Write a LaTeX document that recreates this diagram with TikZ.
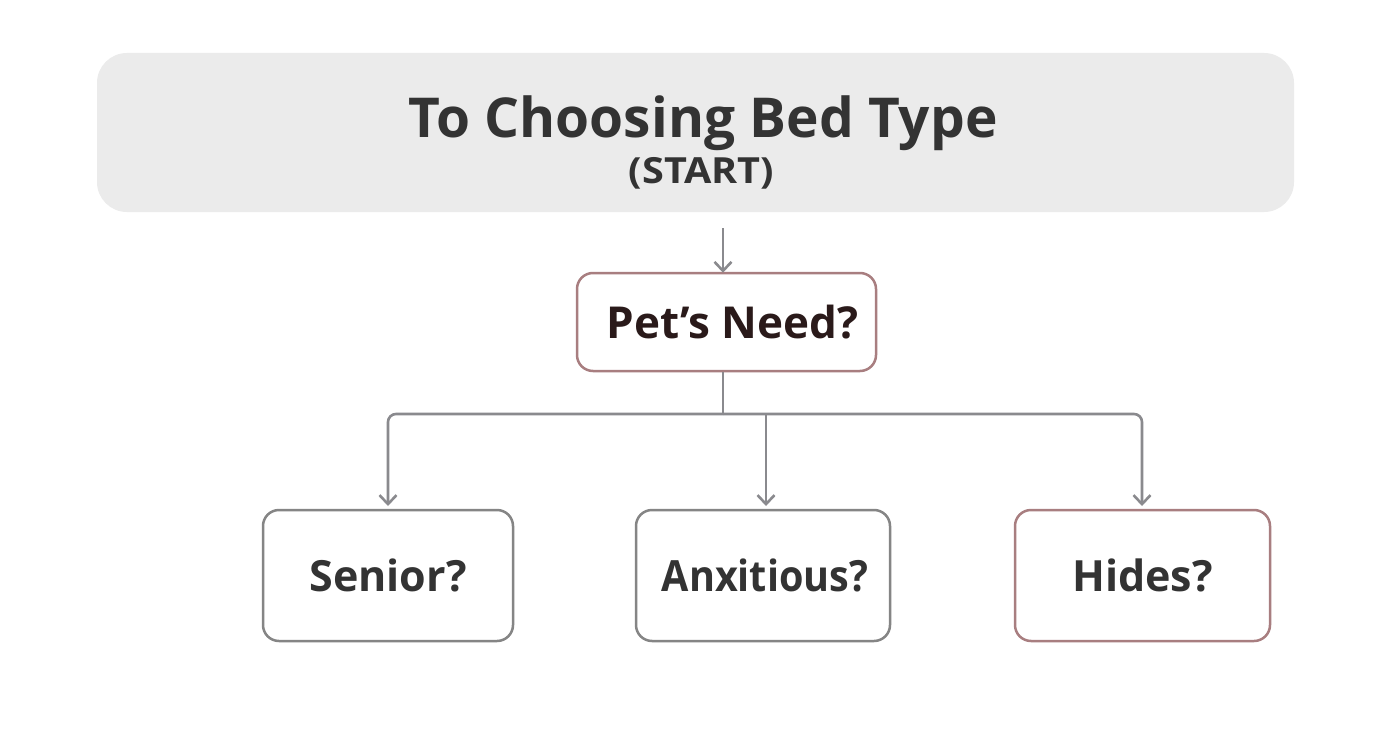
\documentclass[tikz,border=0pt]{standalone}
\usepackage{fontspec}
\setmainfont{Open Sans}
\newfontfamily\narrowfont[FakeStretch=0.92]{Open Sans}
\newfontfamily\widefont[FakeStretch=1.1]{Open Sans}
\usetikzlibrary{arrows.meta}
\definecolor{bgfill}{HTML}{EBEBEB}
\definecolor{txt}{HTML}{333333}
\definecolor{txtdark}{HTML}{2A1A1A}
\definecolor{graybd}{HTML}{858585}
\definecolor{redbd}{HTML}{A87E80}
\definecolor{linec}{HTML}{8A8A8E}
\tikzset{
  header/.style={fill=bgfill, rounded corners=30pt, draw=none},
  qbox/.style={draw=graybd, line width=2.5pt, rounded corners=16pt, fill=white, text=txt, font=\bfseries\fontsize{43}{50}\selectfont},
  qboxred/.style={qbox, draw=redbd},
  conn/.style={draw=linec, line width=2.6pt, rounded corners=8pt, -{Straight Barb[length=9pt,width=17pt,line width=2.6pt]}},
  connplain/.style={draw=linec, line width=2.6pt, rounded corners=8pt}
}
\begin{document}
\begin{tikzpicture}[x=1pt,y=-1pt]
\useasboundingbox[fill=white] (0,0) rectangle (1392,752);
% header
\path[header] (97,53) rectangle (1294,212);
\node[inner sep=0, anchor=base, text=txt, font=\bfseries\fontsize{55}{60}\selectfont] (title) at (703,137) {To Choosing Bed Type};
\node[inner sep=0, anchor=base, text=txt, font=\widefont\bfseries\fontsize{36}{40}\selectfont] (start) at (701.5,183) {(START)};
\coordinate (hb) at (723,228);
% Pet's need
\node[qboxred, minimum width=299pt, minimum height=98pt, text=txtdark, font=\bfseries\fontsize{44}{52}\selectfont] (need) at (726.5,322) {\hspace*{12pt}Pet’s Need?};
\draw[conn] (hb) -- ([yshift=-1pt]need.north -| hb);
% children
\node[qbox, minimum width=250pt, minimum height=131pt] (senior) at (388,575.5) {Senior?};
\node[qbox, minimum width=254pt, minimum height=131pt, font=\narrowfont\bfseries\fontsize{43}{50}\selectfont] (anx) at (763,575.5) {\hspace*{4pt}Anxitious?};
\node[qboxred, minimum width=255pt, minimum height=131pt] (hides) at (1142.5,575.5) {Hides?};
\coordinate (jn) at (723,414);
\draw[connplain] (need.south -| jn) -- (jn);
\draw[conn] (jn) -- (388,414) -- (388,506);
\draw[conn] (jn) -- (1142,414) -- (1142,506);
\draw[conn] (766,414) -- (766,506);
\end{tikzpicture}
\end{document}
